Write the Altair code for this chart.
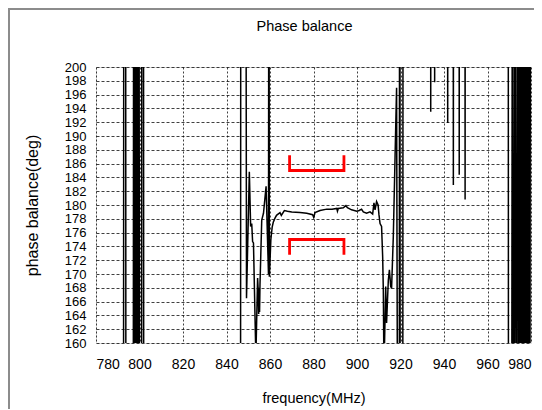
import altair as alt
import pandas as pd

# ---- measured trace (frequency in MHz, phase balance in deg); values >200 or <160 are off-scale ----
freq = [
    780.0, 792.6, 792.8, 793.6, 793.8,
    797.05, 797.35, 797.65, 797.95, 798.25, 798.55, 798.85, 799.15, 799.45, 799.75, 800.05,
    800.9, 801.1, 801.8, 802.0,
    846.4, 846.6,
    848.8, 849.2, 850.5, 851.1, 851.6, 852.0, 852.4, 853.5, 854.3, 854.6, 854.8, 855.0,
    855.2, 855.4, 856.2, 857.0, 858.2, 859.3, 859.5, 859.7, 860.4, 861.0, 861.5, 862.3,
    863.0, 863.4, 864.6, 865.2, 866.6, 868.0, 870.0, 873.8, 876.9, 879.6, 880.1, 880.7,
    883.0, 886.1, 888.5, 890.7, 891.0, 891.4, 893.7, 894.9, 895.6, 897.5, 899.9, 901.0,
    902.1, 902.9, 904.4, 906.0, 907.2, 907.8, 908.3, 909.0, 909.7, 910.1, 910.6, 911.3,
    911.8, 912.1, 912.4, 913.2, 913.6, 914.4, 914.9, 915.5, 915.9, 916.7, 917.5, 918.2,
    918.6,
    919.4, 919.6, 919.7, 919.9, 921.0, 921.2,
    933.8, 933.9, 934.0, 935.6, 935.7, 935.8, 941.6, 941.7, 941.8,
    944.2, 944.3, 944.4, 946.9, 947.0, 947.1, 949.6, 949.7, 949.8,
    969.5, 969.7,
    971.0, 971.5, 972.1, 972.7, 973.3, 973.9, 974.5, 974.9, 975.2, 975.5, 975.8, 976.1,
    976.4, 976.7, 977.0, 977.3, 977.6, 977.9, 978.4, 978.9, 979.4, 979.8, 980.0,
]
phase = [
    100, 100, 250, 250, 100,
    100, 250, 100, 250, 100, 250, 100, 250, 100, 250, 100,
    100, 250, 250, 100,
    100, 250,
    250, 166.5, 184.8, 176.9, 177.3, 174.7, 174.5, 158.0, 169.4, 167.5, 164.2, 168.0,
    164.5, 168.5, 177.8, 178.8, 182.7, 170.0, 240, 169.6, 175.0, 176.8, 177.5, 178.1,
    178.5, 178.6, 178.9, 178.5, 179.2, 179.1, 179.0, 178.9, 178.8, 178.6, 178.2, 178.9,
    179.2, 179.4, 179.4, 179.5, 179.1, 179.5, 179.6, 179.9, 179.6, 179.3, 179.1, 179.2,
    179.4, 179.0, 178.8, 179.0, 178.7, 180.3, 179.3, 180.5, 180.0, 178.6, 177.3, 176.9,
    172.5, 167.7, 156.0, 168.2, 162.9, 169.1, 170.6, 168.2, 167.9, 175.5, 187.0, 197.0,
    150,
    100, 250, 250, 100, 100, 250,
    250, 193.5, 250, 250, 197.8, 250, 250, 191.9, 250,
    250, 182.9, 250, 250, 184.4, 250, 250, 180.8, 250,
    250, 100,
    100, 250, 100, 250, 100, 250, 100, 250, 100, 250, 100, 250,
    100, 250, 100, 250, 100, 250, 100, 250, 100, 250, 250,
]

# ---- red specification brackets ----
spec_freq = [869, 869, 894, 894, 869, 869, 894, 894]
spec_phase = [187, 185, 185, 187, 173, 175, 175, 173]
spec_group = ["upper"] * 4 + ["lower"] * 4
spec_order = [0, 1, 2, 3, 0, 1, 2, 3]

x_ticks = list(range(780, 981, 20))
y_ticks = list(range(160, 201, 2))
chart_title = ["Phase balance"]

trace = pd.DataFrame({"f": freq, "p": phase, "i": range(len(freq))})
spec = pd.DataFrame({"f": spec_freq, "p": spec_phase, "g": spec_group, "o": spec_order})
one = pd.DataFrame({"t": chart_title})

FONT = "Liberation Sans"
W, H = 435, 276

xs = alt.Scale(domain=[780, 980], nice=False, zero=False)
ys = alt.Scale(domain=[160, 200], nice=False, zero=False)

x_axis = alt.Axis(
    values=x_ticks, title="frequency(MHz)", grid=True, ticks=False, domain=False,
    labelFontSize=14, labelPadding=14, labelFont=FONT, labelColor="black", labelOverlap=False,
    titleFont=FONT, titleFontSize=14.5, titleFontWeight="normal", titleColor="black",
    titleX=W / 2, titleY=55, titleBaseline="middle", titleAlign="center",
    gridColor="#000000", gridDash=[2, 2], gridOpacity=0.75, gridWidth=1,
)
y_axis = alt.Axis(
    values=y_ticks, title="phase balance(deg)", grid=True, ticks=False, domain=False,
    labelFontSize=13, labelPadding=10, labelFont=FONT, labelColor="black", labelOverlap=False,
    titleFont=FONT, titleFontSize=16, titleFontWeight="normal", titleColor="black",
    titleX=-64, titleY=H / 2, titleAngle=270, titleBaseline="middle", titleAlign="center",
    gridColor="#000000", gridDash=[3, 2], gridOpacity=0.75, gridWidth=1,
)

line = alt.Chart(trace).mark_line(color="black", strokeWidth=1.5, clip=True).encode(
    x=alt.X("f:Q", scale=xs, axis=x_axis),
    y=alt.Y("p:Q", scale=ys, axis=y_axis),
    order="i:Q",
)

brackets = alt.Chart(spec).mark_line(color="#ff0000", strokeWidth=2.8, strokeJoin="miter", strokeCap="square").encode(
    x=alt.X("f:Q", scale=xs, axis=x_axis),
    y=alt.Y("p:Q", scale=ys, axis=y_axis),
    detail="g:N",
    order="o:Q",
)

left_border = alt.Chart(one).mark_rule(color="#8c8c8c", strokeWidth=2, clip=False).encode(
    x=alt.value(-87), y=alt.value(-58), y2=alt.value(H + 80)
)
top_border = alt.Chart(one).mark_rule(color="#8c8c8c", strokeWidth=2, clip=False).encode(
    x=alt.value(-88), x2=alt.value(W + 20), y=alt.value(-58)
)
title_text = alt.Chart(one).mark_text(
    font=FONT, fontSize=14.5, fontWeight="normal", color="black", align="center", baseline="middle", clip=False
).encode(x=alt.value(W / 2 - 9), y=alt.value(-40), text="t:N")

chart = alt.layer(line, brackets, left_border, top_border, title_text).properties(
    width=W, height=H,
    autosize=alt.AutoSizeParams(type="none"),
    padding={"left": 88, "top": 59, "right": 3, "bottom": 66},
).configure_view(stroke="black", strokeWidth=1).configure(background="white")

chart.save("out.html", embed_options={"renderer": "svg", "actions": False})
